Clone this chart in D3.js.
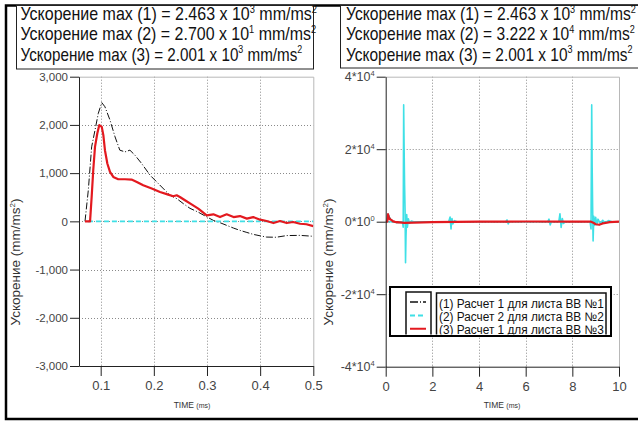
<!DOCTYPE html>
<html>
<head>
<meta charset="utf-8">
<script src="https://cdn.jsdelivr.net/npm/d3@7"></script>
<style>
body { margin: 0; background: #fff; }
svg { display: block; font-family: "Liberation Sans", Arial, sans-serif; }
</style>
</head>
<body>
<svg id="chart" width="638" height="421"></svg>
<script>
'use strict';

// ---- header values ----
const maxMantLeft = ['2.463', '2.700', '2.001'];
const maxExpLeft = ['3', '1', '3'];
const maxMantRight = ['2.463', '3.222', '2.001'];
const maxExpRight = ['3', '4', '3'];

const legendLabels = ['(1) Расчет 1 для листа ВВ №1', '(2) Расчет 2 для листа ВВ №2', '(3) Расчет 1 для листа ВВ №3'];

// ---- left panel: 0.06 - 0.5 ms ----
const zoomXTicks = [0.1, 0.2, 0.3, 0.4, 0.5];
const zoomYTicks = [3000, 2000, 1000, 0, -1000, -2000, -3000];
const zoomYLabels = ['3,000', '2,000', '1,000', '0', '-1,000', '-2,000', '-3,000'];

const zoomTime1 = [0.0705, 0.0767, 0.083, 0.0893, 0.0955, 0.102, 0.108, 0.1175, 0.127, 0.136, 0.1457, 0.155, 0.1645, 0.177, 0.193, 0.2084, 0.221, 0.2304, 0.243, 0.2554, 0.268, 0.2836, 0.30, 0.312, 0.325, 0.337, 0.35, 0.362, 0.375, 0.387, 0.40, 0.412, 0.43, 0.45, 0.475, 0.5];
const zoomAcc1 = [0, 644, 1545, 1892, 2239, 2463, 2376, 2100, 1753, 1476, 1441, 1476, 1372, 1200, 956, 784, 644, 541, 472, 368, 270, 190, 90, 20, -30, -83, -140, -187, -230, -270, -300, -326, -330, -295, -291, -310];

const zoomTime2 = [0.076, 0.1, 0.15, 0.2, 0.25, 0.3, 0.35, 0.4, 0.45, 0.5];
const zoomAcc2 = [0, 0, 0, 0, 0, 0, 0, 0, 0, 0];

const zoomTime3 = [0.0705, 0.08, 0.083, 0.086, 0.0893, 0.0936, 0.0974, 0.102, 0.105, 0.108, 0.1125, 0.1175, 0.1237, 0.133, 0.1457, 0.158, 0.168, 0.18, 0.196, 0.2116, 0.227, 0.2366, 0.243, 0.249, 0.2586, 0.271, 0.2836, 0.2994, 0.312, 0.3245, 0.337, 0.35, 0.362, 0.375, 0.387, 0.40, 0.412, 0.425, 0.4374, 0.45, 0.462, 0.475, 0.487, 0.5];
const zoomAcc3 = [0, 0, 505, 1060, 1545, 1823, 1996, 1960, 1788, 1476, 1200, 1025, 921, 873, 873, 867, 817, 748, 680, 609, 555, 520, 541, 505, 437, 353, 264, 125, 146, 89, 146, 89, 110, 56, 89, 35, 7, -35, 7, -35, -14, -50, -60, -100];

// ---- right panel: 0 - 10 ms ----
const fullXTicks = [0, 2, 4, 6, 8, 10];
const fullYTicks = [40000, 20000, 0, -20000, -40000];
const fullYMant = ['4*10', '2*10', '0*10', '-2*10', '-4*10'];
const fullYExp = ['4', '4', '0', '4', '4'];

const fullTime1 = [0, 0.07, 0.1, 0.15, 0.2, 0.25, 0.3, 0.35, 0.4, 0.5, 0.8, 1.5, 3, 5, 7, 8.8, 9.0, 9.3, 10];
const fullAcc1 = [0, 0, 2463, 1450, 900, 400, 60, -150, -300, -300, -200, -50, 0, 0, 0, 0, -200, -100, 0];

const fullTime2 = [0, 0.5, 0.72, 0.75, 0.77, 0.79, 0.81, 0.83, 0.85, 0.87, 0.9, 0.93, 0.97, 1.02, 1.1, 1.2, 2.7, 2.76, 2.8, 2.84, 2.88, 2.95, 3.05, 5.15, 5.2, 5.25, 5.3, 6.95, 7.0, 7.05, 7.1, 7.42, 7.47, 7.52, 7.57, 7.62, 7.7, 8.76, 8.8, 8.83, 8.85, 8.87, 8.89, 8.92, 8.95, 9.0, 9.05, 9.1, 9.2, 9.3, 9.4, 9.55, 9.7, 10];
const fullAcc2 = [0, 0, 0, -1500, 32220, 20000, 10000, 3000, -11300, -4000, 2000, -1500, 800, -400, 200, 0, 0, 1300, -2000, 900, -600, 300, 0, 0, 500, -600, 0, 0, 700, -900, 0, 0, 2200, -1600, 900, -500, 0, 0, -2000, 32220, 15000, 4000, -5300, 1500, -1000, 1200, -800, 700, -500, 400, -300, 300, 0, 0];

const fullTime3 = [0, 0.07, 0.1, 0.12, 0.15, 0.2, 0.25, 0.3, 0.4, 0.5, 0.8, 1.2, 2, 4, 6, 8, 8.8, 8.9, 9.0, 9.15, 9.3, 9.6, 10];
const fullAcc3 = [0, 0, 2001, 1100, 850, 600, 450, 150, -50, -100, -300, -250, -100, 0, 50, 0, 0, -300, -700, -850, -500, -100, 0];

const seriesStyle = [
    { color: '#111', width: 1, dash: '7,2,1,2' },
    { color: '#3fe0e6', width: 1.6, dash: '5,3' },
    { color: '#e3191f', width: 2.2, dash: null }
];

const svg = d3.select('#chart');

// outer frame
svg.append('path')
    .attr('d', 'M650,5.5 H6 V419 H650')
    .attr('fill', 'none').attr('stroke', '#000').attr('stroke-width', 2.5);

function headerBox(x0, x1, y1, textX, mants, exps, widths) {
    svg.append('rect')
        .attr('x', x0 + 0.5).attr('y', 5.5)
        .attr('width', x1 - x0).attr('height', y1 - 5.5)
        .attr('fill', '#fff').attr('stroke', '#222').attr('stroke-width', 1);
    mants.forEach((m, i) => {
        let t = svg.append('text').attr('font-size', 18).attr('fill', '#111');
        t.append('tspan').text(`Ускорение max (${i + 1}) = ${m} x 10`);
        t.append('tspan').attr('dy', -7.5).attr('font-size', 10.5).text(exps[i]);
        t.append('tspan').attr('dy', 7.5).attr('font-size', 18).text(' mm/ms');
        t.append('tspan').attr('dy', -7.5).attr('font-size', 10.5).text('2');
        let w = t.node().getBBox().width;
        t.attr('transform', `translate(${textX},${20 + i * 20.3}) scale(${widths[i] / w},1)`);
    });
}

headerBox(16, 313, 69, 20.5, maxMantLeft, maxExpLeft, [297, 296, 282]);
headerBox(340, 660, 68, 346, maxMantRight, maxExpRight, [290, 289, 287]);

function drawPanel(p) {
    const x = d3.scaleLinear().domain(p.xDomain).range([p.left, p.right]);
    const y = d3.scaleLinear().domain(p.yDomain).range([p.bottom, p.top]);
    const g = svg.append('g');

    // grid
    g.append('g').selectAll('line').data(p.xTicks.filter(d => x(d) > p.left + 1 && x(d) < p.right - 1)).join('line')
        .attr('x1', d => Math.round(x(d)) + 0.5).attr('x2', d => Math.round(x(d)) + 0.5)
        .attr('y1', p.top).attr('y2', p.bottom)
        .attr('stroke', '#8a8a8a').attr('stroke-dasharray', '1,2');
    g.append('g').selectAll('line').data(p.yTicks.filter(d => y(d) > p.top + 1 && y(d) < p.bottom - 1)).join('line')
        .attr('x1', p.left).attr('x2', p.right)
        .attr('y1', d => Math.round(y(d)) + 0.5).attr('y2', d => Math.round(y(d)) + 0.5)
        .attr('stroke', '#8a8a8a').attr('stroke-dasharray', '1,2');

    // light frame (top, right)
    g.append('path')
        .attr('d', `M${p.left},${p.top + 0.5} H${p.right + 0.5} V${p.bottom}`)
        .attr('fill', 'none').attr('stroke', '#b8b8b8');

    // series
    const clipId = 'clip' + p.id;
    svg.append('clipPath').attr('id', clipId).append('rect')
        .attr('x', p.left).attr('y', p.top).attr('width', p.right - p.left).attr('height', p.bottom - p.top);
    const line = d3.line().x(d => x(d[0])).y(d => y(d[1]));
    p.series.forEach((s, i) => {
        let dash = (p.solid && p.solid[i]) ? null : seriesStyle[i].dash;
        g.append('path')
            .datum(d3.zip(s[0], s[1]))
            .attr('clip-path', `url(#${clipId})`)
            .attr('d', line)
            .attr('fill', 'none')
            .attr('stroke', seriesStyle[i].color)
            .attr('stroke-width', seriesStyle[i].width)
            .attr('stroke-dasharray', dash)
            .attr('stroke-linejoin', 'round');
    });

    // axes
    const ax = g.append('g').attr('transform', `translate(0,${p.bottom})`)
        .call(d3.axisBottom(x).tickValues(p.xTicks).tickSize(10).tickSizeOuter(0).tickPadding(5)
            .tickFormat(p.xFormat));
    ax.selectAll('text').attr('font-size', 13).attr('fill', '#444');
    const ay = g.append('g').attr('transform', `translate(${p.left},0)`)
        .call(d3.axisLeft(y).tickValues(p.yTicks).tickSize(9).tickSizeOuter(0).tickPadding(2)
            .tickFormat((d, i) => p.yLabels[i]));
    ay.selectAll('text').attr('font-size', 11.5).attr('fill', '#444');
    if (p.yExp) {
        ay.selectAll('.tick text').each(function (d, i) {
            let t = d3.select(this);
            t.attr('font-size', 12.5);
            t.append('tspan').attr('dy', -5).attr('font-size', 7.5).text(p.yExp[i]);
        });
    }
    [ax, ay].forEach(a => {
        a.select('.domain').attr('stroke', '#222');
        a.selectAll('.tick line').attr('stroke', '#222');
    });

    // titles
    let yt = g.append('text')
        .attr('transform', `translate(${p.yTitleX},262) rotate(-90)`)
        .attr('text-anchor', 'middle').attr('font-size', 13.5).attr('fill', '#333');
    yt.append('tspan').text('Ускорение (mm/ms');
    yt.append('tspan').attr('dy', -5).attr('font-size', 8).text('2');
    yt.append('tspan').attr('dy', 5).text(')');

    let xt = g.append('text').attr('x', p.xTitleX).attr('y', 408)
        .attr('text-anchor', 'middle').attr('fill', '#333').attr('font-size', 8.5);
    xt.append('tspan').text('TIME ');
    xt.append('tspan').attr('font-size', 7).text('(ms)');

    return { x, y, g };
}

drawPanel({
    id: 'L', left: 79, right: 313.3, top: 76.7, bottom: 366,
    xDomain: [0.0592, 0.5], yDomain: [-3000, 3000],
    xTicks: zoomXTicks, yTicks: zoomYTicks, yLabels: zoomYLabels,
    xFormat: d3.format('.1f'),
    yTitleX: 20, xTitleX: 192,
    series: [[zoomTime1, zoomAcc1], [zoomTime2, zoomAcc2], [zoomTime3, zoomAcc3]]
});

drawPanel({
    id: 'R', left: 385.7, right: 619, top: 76.7, bottom: 366.7,
    xDomain: [0, 10], yDomain: [-40000, 40000],
    xTicks: fullXTicks, yTicks: fullYTicks, yLabels: fullYMant, yExp: fullYExp,
    xFormat: d3.format('d'),
    yTitleX: 333, xTitleX: 502,
    solid: [false, true, false],
    series: [[fullTime1, fullAcc1], [fullTime2, fullAcc2], [fullTime3, fullAcc3]]
});

// legend
const lg = svg.append('g');
svg.append('clipPath').attr('id', 'legClip').append('rect')
    .attr('x', 390).attr('y', 287).attr('width', 221).attr('height', 47.5);
lg.append('rect').attr('x', 390).attr('y', 287).attr('width', 221).attr('height', 49)
    .attr('fill', '#fff');
const inner = lg.append('g').attr('clip-path', 'url(#legClip)');
inner.append('rect').attr('x', 406).attr('y', 292).attr('width', 25).attr('height', 60)
    .attr('fill', 'none').attr('stroke', '#111').attr('stroke-width', 1.5);
inner.append('rect').attr('x', 436.5).attr('y', 293).attr('width', 169.5).attr('height', 60)
    .attr('fill', 'none').attr('stroke', '#111').attr('stroke-width', 1.5);
legendLabels.forEach((lab, i) => {
    let cy = 302 + i * 13.4;
    inner.append('line').attr('x1', 410).attr('x2', 426).attr('y1', cy).attr('y2', cy)
        .attr('stroke', seriesStyle[i].color)
        .attr('stroke-width', i === 0 ? 1.5 : 2)
        .attr('stroke-dasharray', i === 0 ? '8,2,1,2' : (i === 1 ? '5,3' : null));
    let t = inner.append('text').attr('font-size', 12.5).attr('fill', '#111').text(lab);
    let w = t.node().getComputedTextLength();
    t.attr('transform', `translate(439,${cy + 5.5}) scale(${165 / w},1)`);
});
lg.append('rect').attr('x', 390).attr('y', 287).attr('width', 221).attr('height', 49)
    .attr('fill', 'none').attr('stroke', '#000').attr('stroke-width', 2);
</script>
</body>
</html>
